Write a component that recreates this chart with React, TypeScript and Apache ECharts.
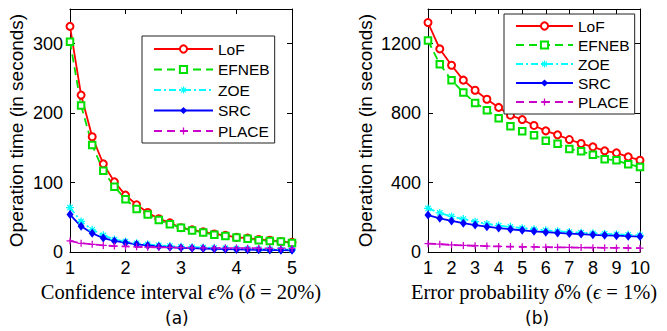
import React, { useEffect, useRef } from "react";
import * as echarts from "echarts";

// (a) confidence interval epsilon %
const xA = [1, 1.2, 1.4, 1.6, 1.8, 2, 2.2, 2.4, 2.6, 2.8, 3, 3.2, 3.4, 3.6, 3.8, 4, 4.2, 4.4, 4.6, 4.8, 5];
const lofA = [325, 226, 166, 127, 101, 82, 68, 57, 48, 42, 35, 32, 29, 26, 24, 21, 20, 18, 17, 15, 14];
const efnebA = [303, 211, 154, 117, 94, 76, 62, 54, 46, 40, 35, 31, 28, 25, 23, 21, 19, 17, 16, 15, 13];
const zoeA = [64, 44, 32, 24, 18, 15, 12.5, 11, 9.5, 8.5, 7.5, 7, 6.5, 6, 5.5, 5, 4.6, 4.3, 4, 3.7, 3.5];
const srcA = [54, 37, 27, 20, 16, 13.5, 11, 9.5, 8, 7, 6, 5.5, 5, 4.5, 4, 3.7, 3.4, 3.1, 2.9, 2.7, 2.5];
const placeA = [16, 12.5, 11, 9.5, 8.5, 8, 7.5, 7, 6.8, 6.5, 6.3, 6.1, 6, 5.8, 5.7, 5.6, 5.5, 5.4, 5.3, 5.2, 5.1];

// (b) error probability delta %
const xB = [1, 1.5, 2, 2.5, 3, 3.5, 4, 4.5, 5, 5.5, 6, 6.5, 7, 7.5, 8, 8.5, 9, 9.5, 10];
const lofB = [1322, 1170, 1076, 990, 932, 880, 833, 788, 763, 729, 698, 675, 648, 625, 606, 583, 571, 548, 529];
const efnebB = [1218, 1082, 990, 919, 859, 817, 770, 725, 696, 673, 641, 623, 593, 581, 560, 535, 528, 506, 489];
const zoeB = [251, 225, 205, 190, 175, 162, 152, 145, 137, 131, 125, 120, 115, 111, 108, 105, 102, 99, 96];
const srcB = [213, 194, 179, 166, 155, 146, 138, 131, 125, 119, 114, 110, 106, 103, 99, 96, 94, 91, 89];
const placeB = [48, 45, 41, 38, 36, 34, 32, 31, 30, 29, 28, 27, 26, 25.5, 25, 24, 23.5, 23, 22];

const seriesNames = ["LoF", "EFNEB", "ZOE", "SRC", "PLACE"];
const yTicksA = [0, 100, 200, 300];
const yTicksB = [0, 400, 800, 1200];

const STAR =
  "path://M-0.8,-5H0.8V5H-0.8Z M-5,-0.8H5V0.8H-5Z M-3.9,-2.8L-2.8,-3.9L3.9,2.8L2.8,3.9Z M2.8,-3.9L3.9,-2.8L-2.8,3.9L-3.9,2.8Z";
const PLUS = "path://M-0.9,-5H0.9V-0.9H5V0.9H0.9V5H-0.9V0.9H-5V-0.9H-0.9Z";

const styles = [
  { color: "#ff0000", type: "solid", symbol: "emptyCircle", size: 7, bw: 1.3 },
  { color: "#00e000", type: [8, 5], symbol: "emptyRect", size: 6.5, bw: 1.3 },
  { color: "#00ffff", type: [7, 3, 2, 3], symbol: STAR, size: 8, bw: 0 },
  { color: "#0000ff", type: "solid", symbol: "diamond", size: [7, 9], bw: 0 },
  { color: "#cc00cc", type: [8, 5], symbol: PLUS, size: 7, bw: 0 },
];

const SANS = "Liberation Sans";
const SERIF = "Liberation Serif";

function mkSeries(xs: number[], ys: number[][], axisIdx: number) {
  return ys.map((vals, i) => ({
    type: "line",
    name: seriesNames[i],
    xAxisIndex: axisIdx,
    yAxisIndex: axisIdx,
    data: xs.map((x, k) => [x, vals[k]]),
    symbol: styles[i].symbol,
    symbolSize: styles[i].size,
    showAllSymbol: true,
    lineStyle: { color: styles[i].color, width: 1.8, type: styles[i].type },
    itemStyle: { color: styles[i].color, borderColor: styles[i].color, borderWidth: styles[i].bw },
    emphasis: { disabled: true },
  }));
}

function axisBase(min: number, max: number, interval: number, gridIndex: number) {
  return {
    type: "value",
    gridIndex,
    min,
    max,
    interval,
    splitLine: { show: false },
    axisLine: { show: true, onZero: false, lineStyle: { color: "#000", width: 1 } },
    axisTick: { show: true, inside: true, length: 5, lineStyle: { color: "#000" } },
  };
}

const labelStyle = { color: "#000", fontFamily: SANS, fontSize: 18 };

function xName(parts: [string, boolean][]) {
  return parts.map(([t, it]) => `{${it ? "i" : "r"}|${t}}`).join("");
}

const richXName = {
  r: { fontFamily: SERIF, fontSize: 20.5, color: "#000" },
  i: { fontFamily: SERIF, fontSize: 20.5, color: "#000", fontStyle: "italic" },
};

export default function App() {
  const ref = useRef<HTMLDivElement>(null);
  useEffect(() => {
    if (!ref.current) return;
    const chart = echarts.init(ref.current, undefined, { renderer: "svg" });
    const legendBase = {
      orient: "vertical",
      data: seriesNames,
      selectedMode: false,
      backgroundColor: "#fff",
      borderColor: "#222",
      borderWidth: 1,
      borderRadius: 0,
      itemWidth: 59,
      itemHeight: 9,
      itemGap: 4.5,
      textStyle: { fontFamily: SANS, fontSize: 15.5, color: "#000" },
    };
    chart.setOption({
      animation: false,
      backgroundColor: "#fff",
      grid: [
        { left: 70, top: 9, width: 222, height: 243 },
        { left: 428, top: 9, width: 212, height: 243 },
      ],
      legend: [
        { ...legendBase, left: 142, top: 36, padding: [5, 5, 4, 11] },
        { ...legendBase, left: 504, top: 14, itemGap: 3, itemWidth: 57, padding: [4, 5, 4, 11] },
      ],
      xAxis: [
        {
          ...axisBase(1, 5, 1, 0),
          position: "bottom",
          axisLabel: { ...labelStyle, margin: 7 },
          name: xName([["Confidence interval ", false], ["ϵ", true], ["% (", false], ["δ", true], [" = 20%)", false]]),
          nameLocation: "middle",
          nameGap: 29,
          nameTextStyle: { rich: richXName },
        },
        { ...axisBase(1, 5, 1, 0), position: "top", axisLabel: { show: false } },
        {
          ...axisBase(1, 10, 1, 1),
          position: "bottom",
          axisLabel: { ...labelStyle, margin: 7 },
          name: xName([["Error probability ", false], ["δ", true], ["% (", false], ["ϵ", true], [" = 1%)", false]]),
          nameLocation: "middle",
          nameGap: 29,
          nameTextStyle: { rich: richXName },
        },
        { ...axisBase(1, 10, 1, 1), position: "top", axisLabel: { show: false } },
      ],
      yAxis: [
        {
          ...axisBase(0, 350, 100, 0),
          position: "left",
          axisLabel: {
            ...labelStyle,
            margin: 7,
            showMaxLabel: false,
            formatter: (v: number) => (yTicksA.includes(v) ? String(v) : ""),
          },
          name: "Operation time (in seconds)",
          nameLocation: "middle",
          nameGap: 44,
          nameTextStyle: { fontFamily: SANS, fontSize: 19, color: "#000" },
        },
        { ...axisBase(0, 350, 100, 0), position: "right", axisLabel: { show: false } },
        {
          ...axisBase(0, 1400, 400, 1),
          position: "left",
          axisLabel: {
            ...labelStyle,
            margin: 7,
            showMaxLabel: false,
            formatter: (v: number) => (yTicksB.includes(v) ? String(v) : ""),
          },
          name: "Operation time (in seconds)",
          nameLocation: "middle",
          nameGap: 53,
          nameTextStyle: { fontFamily: SANS, fontSize: 19, color: "#000" },
        },
        { ...axisBase(0, 1400, 400, 1), position: "right", axisLabel: { show: false } },
      ],
      series: [
        ...mkSeries(xA, [lofA, efnebA, zoeA, srcA, placeA], 0),
        ...mkSeries(xB, [lofB, efnebB, zoeB, srcB, placeB], 2),
      ],
      graphic: [
        {
          type: "text",
          left: 179 - 14,
          top: 309,
          style: { text: "(a)", fontFamily: "DejaVu Sans", fontSize: 17, fill: "#000" },
        },
        {
          type: "text",
          left: 539 - 14,
          top: 309,
          style: { text: "(b)", fontFamily: "DejaVu Sans", fontSize: 17, fill: "#000" },
        },
      ],
    });
    return () => chart.dispose();
  }, []);
  return (
    <div
      ref={ref}
      style={{ position: "absolute", left: 0, top: 0, width: 667, height: 331 }}
    />
  );
}
